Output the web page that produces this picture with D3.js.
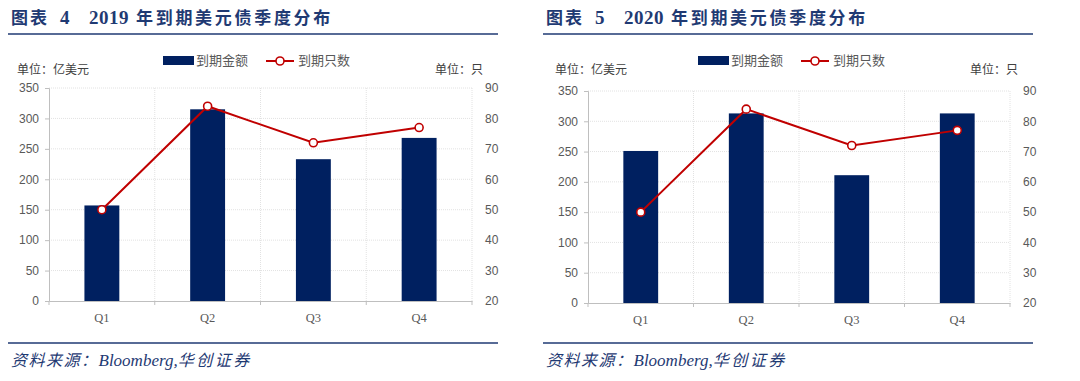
<!DOCTYPE html>
<html><head><meta charset="utf-8">
<script src="https://cdn.jsdelivr.net/npm/d3@7"></script>
<style>body{margin:0;background:#fff}svg{display:block}</style>
</head><body>
<svg id="c" width="1080" height="381"></svg>
<script>
const categories = ["Q1","Q2","Q3","Q4"];
const amount2019 = [157, 315, 233, 268];
const count2019 = [50, 84, 72, 77];
const amount2020 = [251, 313, 211, 313];
const count2020 = [50, 84, 72, 77];
const leftTicks = [0,50,100,150,200,250,300,350];
const rightTicks = [20,30,40,50,60,70,80,90];
const titles = ["2019", "2020"];
const figNums = ["4", "5"];
const legendNames = ["到期金额", "到期只数"];

const svg = d3.select("#c");
const BAR = "#002060", LINE = "#C00000", TITLE = "#1F3A73", GRAY = "#595959";

function panel(ox, fig, year, amounts, counts, top, bottom, left, right, unitX) {
  const g = svg.append("g").attr("transform", `translate(${ox},0)`);
  // title
  const tt = g.append("g").attr("fill", TITLE).attr("font-weight", "bold");
  tt.append("text").attr("x", 11).attr("y", 24).attr("font-family", "Noto Sans CJK SC")
    .attr("font-size", 17).attr("letter-spacing", 2).text("图表");
  tt.append("text").attr("x", 60).attr("y", 24).attr("font-family", "Liberation Serif")
    .attr("font-size", 19).text(fig);
  tt.append("text").attr("x", 89).attr("y", 24).attr("font-family", "Liberation Serif")
    .attr("font-size", 19).attr("letter-spacing", 0.5).text(year);
  tt.append("text").attr("x", 136).attr("y", 24).attr("font-family", "Noto Sans CJK SC")
    .attr("font-size", 17).attr("letter-spacing", 2.7).text("年到期美元债季度分布");
  g.append("line").attr("x1", 8).attr("x2", 498).attr("y1", 34).attr("y2", 34)
    .attr("stroke", TITLE).attr("stroke-width", 1.5);
  g.append("line").attr("x1", 8).attr("x2", 498).attr("y1", 343).attr("y2", 343)
    .attr("stroke", TITLE).attr("stroke-width", 1.5);
  const src = g.append("text").attr("x", 11).attr("y", 366).attr("fill", TITLE)
    .attr("font-style", "italic").attr("font-size", 16);
  src.append("tspan").attr("font-family", "Noto Sans CJK SC").attr("letter-spacing", 1.5).text("资料来源：");
  src.append("tspan").attr("font-family", "Liberation Serif").attr("font-size", 17).text("Bloomberg,");
  src.append("tspan").attr("font-family", "Noto Sans CJK SC").attr("letter-spacing", 2.5).text("华创证券");

  const x = d3.scaleBand().domain(categories).range([left, right]).paddingInner(0).paddingOuter(0);
  const yL = d3.scaleLinear().domain([0, 350]).range([bottom, top]);
  const yR = d3.scaleLinear().domain([20, 90]).range([bottom, top]);

  // gridlines
  g.append("g").selectAll("line").data(leftTicks.filter(d => d > 0)).join("line")
    .attr("x1", left).attr("x2", right).attr("y1", d => yL(d)).attr("y2", d => yL(d))
    .attr("stroke", "#e2e2e2").attr("stroke-dasharray", "1,1");
  g.append("g").selectAll("line").data(categories.slice(1).concat(["end"])).join("line")
    .attr("x1", d => d === "end" ? right : x(d)).attr("x2", d => d === "end" ? right : x(d))
    .attr("y1", top).attr("y2", bottom)
    .attr("stroke", "#e2e2e2").attr("stroke-dasharray", "1,1");

  // bars
  const bw = x.bandwidth() * 0.33;
  g.append("g").selectAll("rect").data(amounts).join("rect")
    .attr("x", (d, i) => x(categories[i]) + x.bandwidth() / 2 - bw / 2)
    .attr("width", bw).attr("y", d => yL(d)).attr("height", d => bottom - yL(d))
    .attr("fill", BAR);

  // left axis
  const ax = g.append("g").attr("transform", `translate(${left},0)`)
    .call(d3.axisLeft(yL).tickValues(leftTicks).tickSize(4).tickPadding(6));
  ax.select(".domain").attr("stroke", "#bfbfbf");
  ax.selectAll(".tick line").attr("stroke", "#bfbfbf");
  ax.selectAll("text").attr("fill", GRAY).attr("font-size", 12).attr("font-family", "Liberation Sans");

  const ar = g.append("g").attr("transform", `translate(${right},0)`)
    .call(d3.axisRight(yR).tickValues(rightTicks).tickSize(0).tickPadding(13));
  ar.select(".domain").remove();
  ar.selectAll("text").attr("fill", GRAY).attr("font-size", 12).attr("font-family", "Liberation Sans");

  // x axis
  const axB = g.append("g").attr("transform", `translate(0,${bottom})`)
    .call(d3.axisBottom(x).tickSize(0).tickPadding(12));
  axB.select(".domain").attr("stroke", "#bfbfbf");
  axB.selectAll("text").attr("fill", GRAY).attr("font-size", 12.5).attr("font-family", "Liberation Serif");
  g.append("g").selectAll("line").data(categories.concat(["end"])).join("line")
    .attr("x1", d => d === "end" ? right : x(d)).attr("x2", d => d === "end" ? right : x(d))
    .attr("y1", bottom).attr("y2", bottom + 4).attr("stroke", "#bfbfbf");

  // line
  const line = d3.line().x((d, i) => x(categories[i]) + x.bandwidth() / 2).y(d => yR(d));
  g.append("path").datum(counts).attr("d", line).attr("fill", "none")
    .attr("stroke", LINE).attr("stroke-width", 2);
  g.append("g").selectAll("circle").data(counts).join("circle")
    .attr("cx", (d, i) => x(categories[i]) + x.bandwidth() / 2).attr("cy", d => yR(d))
    .attr("r", 4).attr("fill", "#fff").attr("stroke", LINE).attr("stroke-width", 1.6);

  // units
  g.append("text").attr("x", unitX).attr("y", 74).attr("fill", "#404040")
    .attr("font-family", "Noto Sans CJK SC").attr("font-size", 12).text("单位：亿美元");
  g.append("text").attr("x", 483).attr("y", 74).attr("text-anchor", "end").attr("fill", "#404040")
    .attr("font-family", "Noto Sans CJK SC").attr("font-size", 12).text("单位：只");

  // legend
  const lg = g.append("g");
  lg.append("rect").attr("x", 163).attr("y", 56).attr("width", 31).attr("height", 9).attr("fill", BAR);
  lg.append("text").attr("x", 196).attr("y", 65).attr("fill", GRAY)
    .attr("font-family", "Noto Sans CJK SC").attr("font-size", 13).text(legendNames[0]);
  lg.append("line").attr("x1", 266).attr("x2", 294).attr("y1", 61).attr("y2", 61)
    .attr("stroke", LINE).attr("stroke-width", 2);
  lg.append("circle").attr("cx", 280).attr("cy", 61).attr("r", 4).attr("fill", "#fff")
    .attr("stroke", LINE).attr("stroke-width", 1.6);
  lg.append("text").attr("x", 298).attr("y", 65).attr("fill", GRAY)
    .attr("font-family", "Noto Sans CJK SC").attr("font-size", 13).text(legendNames[1]);
}

panel(0, figNums[0], titles[0], amount2019, count2019, 88, 301, 49, 472, 17);
panel(535, figNums[1], titles[1], amount2020, count2020, 91, 303, 53, 475, 20);
</script>
</body></html>
